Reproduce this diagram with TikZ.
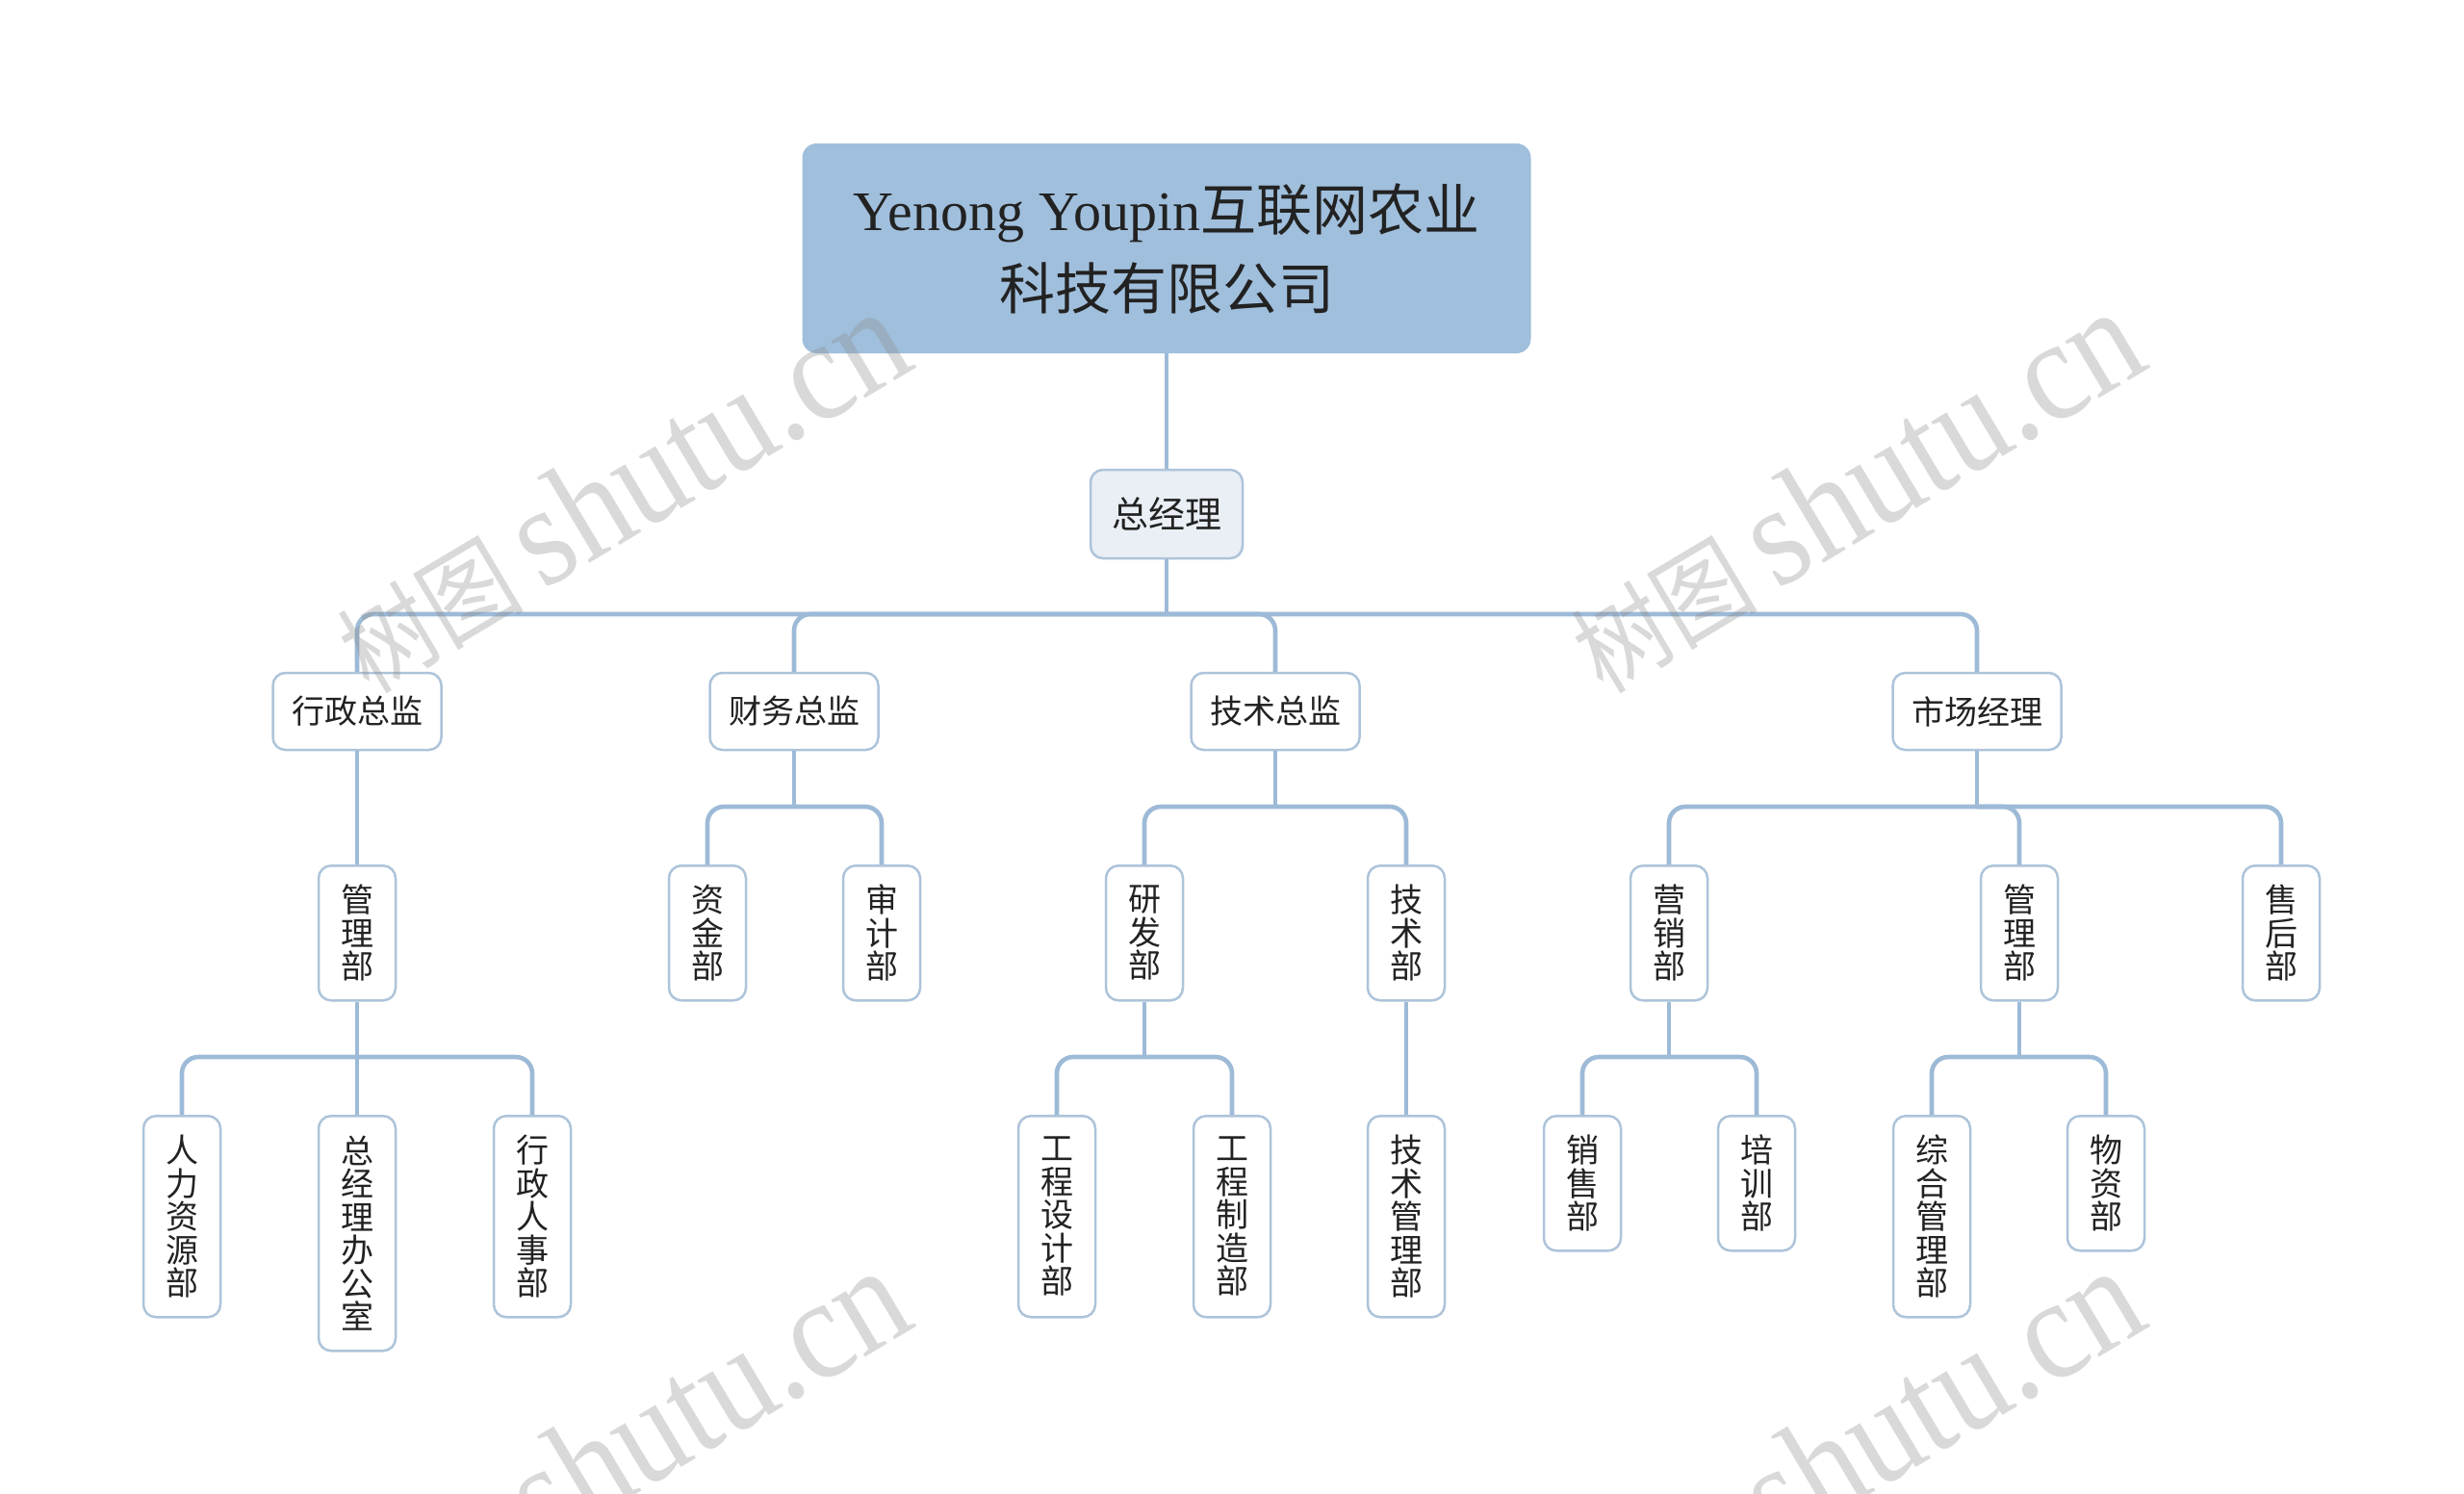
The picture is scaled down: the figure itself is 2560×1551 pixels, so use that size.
\documentclass[tikz,border=0pt]{standalone}
\usepackage{fontspec}
\setmainfont{Noto Sans CJK SC}
\newfontfamily\latinserif{Liberation Serif}
\usetikzlibrary{calc}
\definecolor{rootfill}{HTML}{A0BFDC}
\definecolor{linec}{HTML}{9DBAD7}
\definecolor{bord}{HTML}{ADC4DA}
\definecolor{gmfill}{HTML}{E9EFF5}
\definecolor{txt}{HTML}{222222}
\begin{document}
\begin{tikzpicture}[x=1pt,y=-1pt,
  conn/.style={draw=linec, line width=4.6pt},
  rconn/.style={conn, rounded corners=17pt},
  box/.style={draw=bord, line width=2.5pt, fill=white, rounded corners=13pt, text=txt, inner sep=0pt},
  rootbox/.style={fill=rootfill, draw=none, rounded corners=15pt, text=txt, inner sep=0pt,
     minimum width=757pt, minimum height=218pt, align=center, font=\fontsize{58}{82}\selectfont},
  gmbox/.style={box, fill=gmfill, minimum width=158pt, minimum height=92pt, font=\fontsize{38}{40}\selectfont},
  hbox/.style={box, minimum width=175pt, minimum height=80pt, font=\fontsize{34}{36}\selectfont},
  vbox/.style={box, minimum width=80pt, anchor=north, align=center, font=\fontsize{34}{34.5}\selectfont},
  vthree/.style={vbox, minimum height=140pt},
  vfive/.style={vbox, minimum height=209pt},
  vsix/.style={vbox, minimum height=244pt},
  wm/.style={text=black!45, opacity=0.33, inner sep=0pt, rotate=30.8, xscale=0.9},
]
\useasboundingbox (0,0) rectangle (2560,1551);
\fill[white] (0,0) rectangle (2560,1551);

% junctions
\coordinate (j0) at (1212,638);
\coordinate (jcw) at (825,838);
\coordinate (jjs) at (1325,838);
\coordinate (jsc) at (2054,838);
\coordinate (jgl) at (371,1098);
\coordinate (jyf) at (1189,1098);
\coordinate (jyx) at (1734,1098);
\coordinate (jglB) at (2098,1098);

% nodes
\node[rootbox] (root) at (1212,258) {{\latinserif Yenong Youpin}互联网农业\\科技有限公司};
\node[gmbox] (gm) at (1212,534) {总经理};

\node[hbox] (xz) at (371,739) {行政总监};
\node[hbox] (cw) at (825,739) {财务总监};
\node[hbox] (js) at (1325,739) {技术总监};
\node[hbox] (sc) at (2054,739) {市场经理};

\node[vthree] (glA) at (371,898) {管\\理\\部};
\node[vthree] (zj) at (735,898) {资\\金\\部};
\node[vthree] (sj) at (916,898) {审\\计\\部};
\node[vthree] (yf) at (1189,898) {研\\发\\部};
\node[vthree] (jsb) at (1461,898) {技\\术\\部};
\node[vthree] (yx) at (1734,898) {营\\销\\部};
\node[vthree] (glB) at (2098,898) {管\\理\\部};
\node[vthree] (sh) at (2370,898) {售\\后\\部};

\node[vfive] (rl) at (189,1158) {人\\力\\资\\源\\部};
\node[vsix] (zb) at (371,1158) {总\\经\\理\\办\\公\\室};
\node[vfive] (xr) at (553,1158) {行\\政\\人\\事\\部};
\node[vfive] (gs) at (1098,1158) {工\\程\\设\\计\\部};
\node[vfive] (gz) at (1280,1158) {工\\程\\制\\造\\部};
\node[vfive] (jg) at (1461,1158) {技\\术\\管\\理\\部};
\node[vthree] (xs) at (1644,1158) {销\\售\\部};
\node[vthree] (px) at (1825,1158) {培\\训\\部};
\node[vfive] (zh) at (2007,1158) {综\\合\\管\\理\\部};
\node[vthree] (wz) at (2188,1158) {物\\资\\部};

% connectors
\draw[conn] (root.south) -- (gm.north);
\draw[conn] (gm.south) -- (j0);
\foreach \c in {xz,cw,js,sc} \draw[rconn] (j0) -| (\c.north);

\draw[conn] (xz.south) -- (glA.north);
\draw[conn] (cw.south) -- (jcw);
\foreach \c in {zj,sj} \draw[rconn] (jcw) -| (\c.north);
\draw[conn] (js.south) -- (jjs);
\foreach \c in {yf,jsb} \draw[rconn] (jjs) -| (\c.north);
\draw[conn] (sc.south) -- (jsc);
\foreach \c in {yx,glB,sh} \draw[rconn] (jsc) -| (\c.north);

\draw[conn] (glA.south) -- (zb.north);
\foreach \c in {rl,xr} \draw[rconn] (jgl) -| (\c.north);
\draw[conn] (yf.south) -- (jyf);
\foreach \c in {gs,gz} \draw[rconn] (jyf) -| (\c.north);
\draw[conn] (jsb.south) -- (jg.north);
\draw[conn] (yx.south) -- (jyx);
\foreach \c in {xs,px} \draw[rconn] (jyx) -| (\c.north);
\draw[conn] (glB.south) -- (jglB);
\foreach \c in {zh,wz} \draw[rconn] (jglB) -| (\c.north);

% watermarks
\begin{scope}
\clip (0,0) rectangle (2560,1551);
\node[wm] (w1) at (645,510) {\fontsize{105}{110}\selectfont 树图 {\latinserif\fontsize{150}{150}\selectfont shutu.cn}};
\node[wm] (w2) at (1927,510) {\fontsize{105}{110}\selectfont 树图 {\latinserif\fontsize{150}{150}\selectfont shutu.cn}};
\node[wm] (w3) at (645,1506) {\fontsize{105}{110}\selectfont 树图 {\latinserif\fontsize{150}{150}\selectfont shutu.cn}};
\node[wm] (w4) at (1927,1506) {\fontsize{105}{110}\selectfont 树图 {\latinserif\fontsize{150}{150}\selectfont shutu.cn}};
\end{scope}
\end{tikzpicture}
\end{document}
